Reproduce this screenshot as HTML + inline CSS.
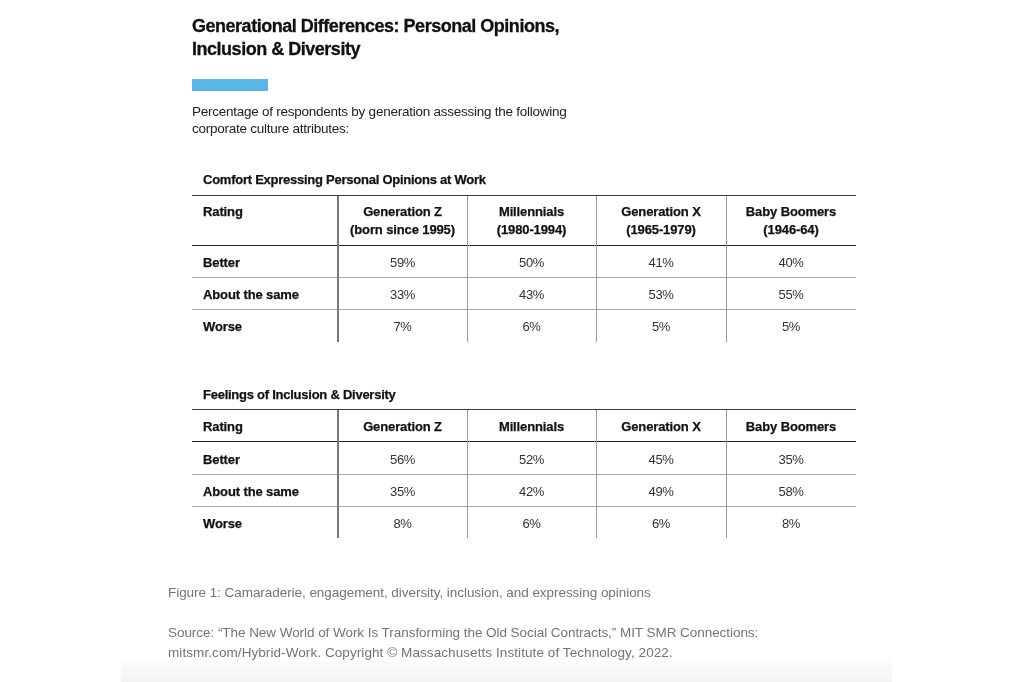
<!DOCTYPE html>
<html>
<head>
<meta charset="utf-8">
<style>
html,body{margin:0;padding:0;background:#fff;}
body{width:1024px;height:682px;position:relative;overflow:hidden;font-family:"Liberation Sans",sans-serif;color:#111;}
.a{position:absolute;white-space:nowrap;will-change:transform;}
.title{left:192px;top:15px;font-size:18px;font-weight:bold;line-height:23px;letter-spacing:-0.48px;color:#111;-webkit-text-stroke:0.3px #111;}
.bar{position:absolute;left:192px;top:79px;width:76px;height:12px;background:#5bb5e5;}
.sub{left:192px;top:103px;font-size:13.5px;line-height:17px;letter-spacing:-0.25px;color:#222;}
.ttl{font-size:13px;font-weight:bold;letter-spacing:-0.25px;color:#111;-webkit-text-stroke:0.25px #111;line-height:15px;}
.h{font-size:13px;font-weight:bold;letter-spacing:-0.12px;color:#111;-webkit-text-stroke:0.25px #111;line-height:18px;text-align:center;}
.rl{font-size:13px;font-weight:bold;letter-spacing:-0.12px;color:#111;-webkit-text-stroke:0.25px #111;line-height:15px;}
.v{font-size:13px;letter-spacing:-0.4px;color:#333;line-height:15px;text-align:center;}
.hl{position:absolute;left:192px;width:664px;height:1px;}
.top{background:#3a3a3a;}
.hb{background:#222;}
.rr{background:#a8a8a8;}
.vl{position:absolute;width:1px;}
.v0{left:337px;width:2px;background:#7a7a7a;}
.vd{background:#999;}
.fig{left:168px;font-size:13.5px;color:#747474;line-height:20px;letter-spacing:-0.05px;}
.grad{position:absolute;left:121px;top:657px;width:771px;height:25px;background:linear-gradient(#fff,#f8f8f8 45%,#f7f7f7 70%,#f3f3f3);}
</style>
</head>
<body>
<div class="a title">Generational Differences: Personal Opinions,<br>Inclusion &amp; Diversity</div>
<div class="bar"></div>
<div class="a sub">Percentage of respondents by generation assessing the following<br>corporate culture attributes:</div>
<div class="a ttl" style="left:203px;top:172px;">Comfort Expressing Personal Opinions at Work</div>
<div class="hl top" style="top:195px;"></div>
<div class="hl hb" style="top:245px;"></div>
<div class="hl rr" style="top:277px;"></div>
<div class="hl rr" style="top:309px;"></div>
<div class="vl v0" style="top:196px;height:146px;"></div>
<div class="vl vd" style="left:467px;top:196px;height:146px;"></div>
<div class="vl vd" style="left:596px;top:196px;height:146px;"></div>
<div class="vl vd" style="left:726px;top:196px;height:146px;"></div>
<div class="a h" style="left:203px;top:203px;text-align:left;">Rating</div>
<div class="a h" style="left:338px;top:203px;width:129px;">Generation Z<br>(born since 1995)</div>
<div class="a h" style="left:467px;top:203px;width:129px;">Millennials<br>(1980-1994)</div>
<div class="a h" style="left:596px;top:203px;width:130px;">Generation X<br>(1965-1979)</div>
<div class="a h" style="left:726px;top:203px;width:130px;">Baby Boomers<br>(1946-64)</div>
<div class="a rl" style="left:203px;top:255px;">Better</div>
<div class="a v" style="left:338px;top:255px;width:129px;">59%</div>
<div class="a v" style="left:467px;top:255px;width:129px;">50%</div>
<div class="a v" style="left:596px;top:255px;width:130px;">41%</div>
<div class="a v" style="left:726px;top:255px;width:130px;">40%</div>
<div class="a rl" style="left:203px;top:287px;">About the same</div>
<div class="a v" style="left:338px;top:287px;width:129px;">33%</div>
<div class="a v" style="left:467px;top:287px;width:129px;">43%</div>
<div class="a v" style="left:596px;top:287px;width:130px;">53%</div>
<div class="a v" style="left:726px;top:287px;width:130px;">55%</div>
<div class="a rl" style="left:203px;top:319px;">Worse</div>
<div class="a v" style="left:338px;top:319px;width:129px;">7%</div>
<div class="a v" style="left:467px;top:319px;width:129px;">6%</div>
<div class="a v" style="left:596px;top:319px;width:130px;">5%</div>
<div class="a v" style="left:726px;top:319px;width:130px;">5%</div>
<div class="a ttl" style="left:203px;top:387px;">Feelings of Inclusion &amp; Diversity</div>
<div class="hl top" style="top:409px;"></div>
<div class="hl hb" style="top:441px;"></div>
<div class="hl rr" style="top:474px;"></div>
<div class="hl rr" style="top:506px;"></div>
<div class="vl v0" style="top:410px;height:128px;"></div>
<div class="vl vd" style="left:467px;top:410px;height:128px;"></div>
<div class="vl vd" style="left:596px;top:410px;height:128px;"></div>
<div class="vl vd" style="left:726px;top:410px;height:128px;"></div>
<div class="a h" style="left:203px;top:418px;text-align:left;">Rating</div>
<div class="a h" style="left:338px;top:418px;width:129px;">Generation Z</div>
<div class="a h" style="left:467px;top:418px;width:129px;">Millennials</div>
<div class="a h" style="left:596px;top:418px;width:130px;">Generation X</div>
<div class="a h" style="left:726px;top:418px;width:130px;">Baby Boomers</div>
<div class="a rl" style="left:203px;top:452px;">Better</div>
<div class="a v" style="left:338px;top:452px;width:129px;">56%</div>
<div class="a v" style="left:467px;top:452px;width:129px;">52%</div>
<div class="a v" style="left:596px;top:452px;width:130px;">45%</div>
<div class="a v" style="left:726px;top:452px;width:130px;">35%</div>
<div class="a rl" style="left:203px;top:484px;">About the same</div>
<div class="a v" style="left:338px;top:484px;width:129px;">35%</div>
<div class="a v" style="left:467px;top:484px;width:129px;">42%</div>
<div class="a v" style="left:596px;top:484px;width:130px;">49%</div>
<div class="a v" style="left:726px;top:484px;width:130px;">58%</div>
<div class="a rl" style="left:203px;top:516px;">Worse</div>
<div class="a v" style="left:338px;top:516px;width:129px;">8%</div>
<div class="a v" style="left:467px;top:516px;width:129px;">6%</div>
<div class="a v" style="left:596px;top:516px;width:130px;">6%</div>
<div class="a v" style="left:726px;top:516px;width:130px;">8%</div>
<div class="grad"></div>
<div class="a fig" style="top:583px;">Figure 1: Camaraderie, engagement, diversity, inclusion, and expressing opinions</div>
<div class="a fig" style="top:623px;">Source: “The New World of Work Is Transforming the Old Social Contracts,” MIT SMR Connections:<br><span style="letter-spacing:0.08px">mitsmr.com/Hybrid-Work. Copyright © Massachusetts Institute of Technology, 2022.</span></div>
</body>
</html>
